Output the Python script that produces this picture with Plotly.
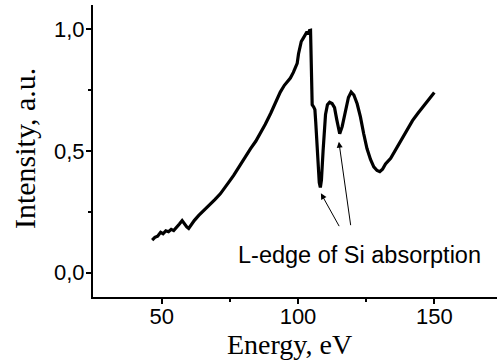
import plotly.graph_objects as go

# Energy (eV) and intensity (a.u.)
energy = [46.5, 47.5, 48.5, 49.6, 50.5, 51.5, 52.5, 53.5, 54.4, 55.5, 56.5, 57.5,
          58.3, 59.2, 59.9, 61.0, 62.0, 63.6, 65.0, 66.5, 68.0, 69.5, 71.5, 73.0,
          74.5, 76.4, 77.5, 78.9, 80.5, 82.6, 84.5, 86.2, 88.0, 90.0, 92.0, 93.5,
          95.0, 96.2, 97.2, 98.3, 99.2, 99.7, 100.2, 100.6, 101.2, 102.0, 102.7,
          103.3, 103.8, 104.2, 104.6, 104.9, 105.2, 105.8, 106.2, 106.5, 107.2,
          107.8, 108.2, 108.6, 109.2, 109.7, 110.1, 110.8, 111.6, 112.5, 113.4,
          114.2, 115.3, 116.2, 117.4, 118.5, 119.5, 120.5, 121.7, 122.9, 124.1,
          125.3, 126.6, 127.8, 129.0, 130.0, 131.0, 132.1, 134.0, 136.0, 138.0,
          140.0, 142.0, 144.0, 146.0, 148.0, 149.5, 150.0]
intensity = [0.134, 0.145, 0.150, 0.166, 0.160, 0.172, 0.168, 0.178, 0.173, 0.190,
             0.200, 0.214, 0.200, 0.188, 0.182, 0.200, 0.215, 0.235, 0.250, 0.265,
             0.282, 0.300, 0.324, 0.345, 0.370, 0.400, 0.420, 0.445, 0.475, 0.510,
             0.540, 0.571, 0.610, 0.655, 0.705, 0.742, 0.770, 0.785, 0.800, 0.823,
             0.845, 0.860, 0.900, 0.927, 0.950, 0.965, 0.980, 0.990, 0.980, 0.995,
             0.996, 0.850, 0.690, 0.680, 0.670, 0.620, 0.480, 0.370, 0.350, 0.380,
             0.500, 0.600, 0.650, 0.690, 0.700, 0.695, 0.678, 0.630, 0.571, 0.600,
             0.667, 0.720, 0.742, 0.730, 0.694, 0.640, 0.571, 0.510, 0.465, 0.435,
             0.420, 0.415, 0.425, 0.447, 0.470, 0.510, 0.550, 0.590, 0.625, 0.655,
             0.685, 0.715, 0.735, 0.740]

x_ticks = [50, 100, 150]
y_ticks = [0.0, 0.5, 1.0]
y_ticklabels = ["0,0", "0,5", "1,0"]

annotation_text = "L-edge of Si absorption"
arrow_heads = [(108.4, 0.326), (115.0, 0.538)]
arrow_tails = [(115.4, 0.185), (119.4, 0.189)]

fig = go.Figure()
fig.add_trace(go.Scatter(x=energy, y=intensity, mode="lines",
                         line=dict(color="black", width=3.2), showlegend=False))

for (hx, hy), (tx, ty) in zip(arrow_heads, arrow_tails):
    fig.add_annotation(x=hx, y=hy, ax=tx, ay=ty, xref="x", yref="y",
                       axref="x", ayref="y", text="", showarrow=True,
                       arrowhead=2, arrowsize=1.2, arrowwidth=1, arrowcolor="black")

fig.add_annotation(x=122.4, y=0.072, xref="x", yref="y", text=annotation_text,
                   showarrow=False, font=dict(family="Arial, Liberation Sans", size=23.5, color="black"),
                   xanchor="center", yanchor="middle")

fig.add_annotation(x=0.4876, y=-0.164, xref="paper", yref="paper", text="Energy, eV",
                   showarrow=False, font=dict(family="Times New Roman, Liberation Serif", size=28, color="black"),
                   xanchor="center", yanchor="middle")
fig.add_annotation(x=-0.168, y=0.507, xref="paper", yref="paper", text="Intensity, a.u.",
                   showarrow=False, textangle=-90,
                   font=dict(family="Times New Roman, Liberation Serif", size=30, color="black"),
                   xanchor="center", yanchor="middle")

tickfont = dict(family="Arial, Liberation Sans", size=22, color="black")
fig.update_xaxes(range=[24.8, 173], tickvals=x_ticks, ticks="outside", ticklen=5,
                 tickwidth=1.5, tickcolor="black", showline=True, linecolor="black",
                 linewidth=2, showgrid=False, zeroline=False, tickfont=tickfont,
                 ticklabelstandoff=-6,
                 minor=dict(tickvals=[75, 125], ticks="outside", ticklen=3,
                            tickwidth=1.5, tickcolor="black"))
fig.update_yaxes(range=[-0.1, 1.1], tickvals=y_ticks, ticktext=y_ticklabels,
                 ticks="outside", ticklen=5, tickwidth=1.5, tickcolor="black",
                 showline=True, linecolor="black", linewidth=2, showgrid=False,
                 zeroline=False, tickfont=tickfont, ticklabelstandoff=-3,
                 minor=dict(tickvals=[0.25, 0.75], ticks="outside", ticklen=3,
                            tickwidth=1.5, tickcolor="black"))

fig.update_layout(width=497, height=363, margin=dict(l=93, r=0, t=5, b=66),
                  paper_bgcolor="white", plot_bgcolor="white")

fig.write_html("out.html")
